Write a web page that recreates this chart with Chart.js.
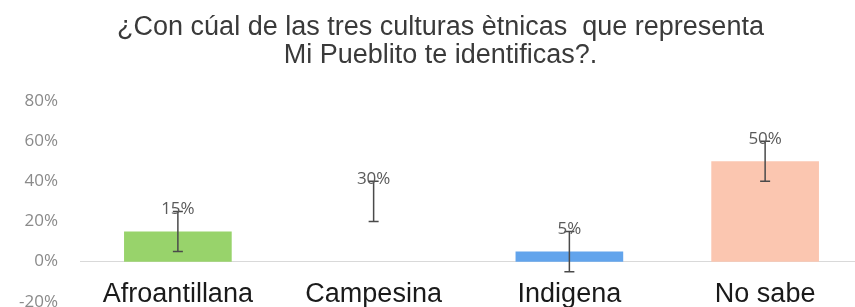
<!DOCTYPE html>
<html>
<head>
<meta charset="utf-8">
<script src="https://cdn.jsdelivr.net/npm/chart.js@4/dist/chart.umd.min.js"></script>
<style>
  html, body { margin: 0; padding: 0; background: #fff; overflow: hidden; }
  #wrap { width: 886px; height: 334px; }
</style>
</head>
<body>
<div id="wrap"><canvas id="grafico" width="886" height="334"></canvas></div>
<script>
var categorias = ['Afroantillana', 'Campesina', 'Indigena', 'No sabe'];
var valores = [15, 30, 5, 50];
var errMenos = [10, 10, 10, 10];
var errMas = [10, 10, 10, 10];
var cores = ['#98d36b', 'rgba(255,255,255,0)', '#62a4ec', '#fbc6b0'];
var tituloLinhas = ['¿Con cúal de las tres culturas ètnicas  que representa', 'Mi Pueblito te identificas?.'];

// barras de erro + rotulos de valor
var errosPlugin = {
  id: 'erros',
  afterDatasetsDraw: function(chart) {
    var ctx = chart.ctx;
    var meta = chart.getDatasetMeta(0);
    var y = chart.scales.y;
    ctx.save();
    meta.data.forEach(function(bar, i) {
      var x = bar.x;
      var yTop = y.getPixelForValue(valores[i] + errMas[i]);
      var yBot = y.getPixelForValue(valores[i] - errMenos[i]);
      ctx.strokeStyle = '#4a4a4a';
      ctx.lineWidth = 1.5;
      ctx.beginPath();
      ctx.moveTo(x, yTop); ctx.lineTo(x, yBot);
      ctx.moveTo(x - 5, yTop); ctx.lineTo(x + 5, yTop);
      ctx.moveTo(x - 5, yBot); ctx.lineTo(x + 5, yBot);
      ctx.stroke();
      ctx.fillStyle = '#5a5a5a';
      ctx.font = '17px "Open Sans", sans-serif';
      ctx.textAlign = 'center';
      ctx.textBaseline = 'middle';
      ctx.fillText(valores[i] + '%', x, yTop - 2);
    });
    ctx.restore();
  }
};

new Chart(document.getElementById('grafico'), {
  type: 'bar',
  data: {
    labels: categorias,
    datasets: [{
      data: valores,
      backgroundColor: cores,
      borderWidth: 0,
      barPercentage: 0.55,
      categoryPercentage: 1
    }]
  },
  options: {
    responsive: false,
    animation: false,
    layout: { padding: { left: 18, right: 23, top: 0, bottom: 0 } },
    plugins: {
      legend: { display: false },
      tooltip: { enabled: false },
      title: {
        display: true,
        text: tituloLinhas,
        color: '#3a3a3a',
        font: { family: '"Liberation Sans", Arial, sans-serif', size: 27, weight: 'normal', lineHeight: 1.02 },
        padding: { top: 14, bottom: 32 }
      }
    },
    scales: {
      x: {
        position: { y: 0 },
        grid: { display: false, drawTicks: false },
        border: { display: true, color: '#d9d9d9', width: 1 },
        ticks: {
          color: '#1a1a1a',
          padding: 17,
          font: { family: '"Liberation Sans", Arial, sans-serif', size: 27 }
        }
      },
      y: {
        min: -20,
        max: 80,
        grid: { display: false, drawTicks: false },
        border: { display: false },
        ticks: {
          stepSize: 20,
          padding: 22,
          color: '#8a8a8a',
          font: { family: '"Open Sans", sans-serif', size: 17 },
          callback: function(v) { return v + '%'; }
        },
        afterFit: function(s) { s.width = 62; }
      }
    }
  },
  plugins: [errosPlugin]
});
</script>
</body>
</html>
